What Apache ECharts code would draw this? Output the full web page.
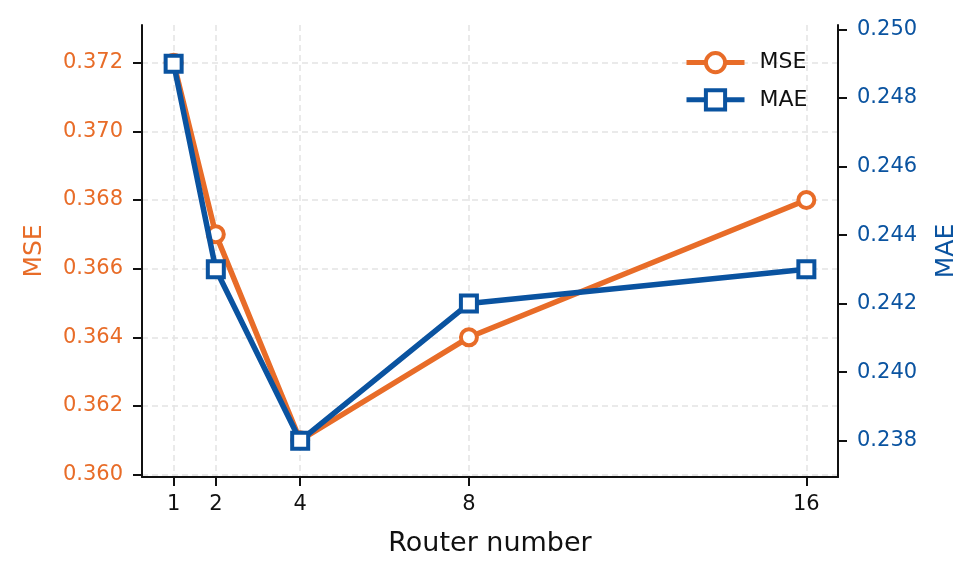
<!DOCTYPE html>
<html>
<head>
<meta charset="utf-8">
<script src="https://cdn.jsdelivr.net/npm/echarts@6/dist/echarts.min.js"></script>
<style>
  html, body { margin: 0; padding: 0; background: #fff; }
  #chart { width: 980px; height: 580px; }
</style>
</head>
<body>
<div id="chart"></div>
<script>
// data
const routers = [1, 2, 4, 8, 16]
const mse = [0.372, 0.367, 0.361, 0.364, 0.368]
const mae = [0.249, 0.243, 0.238, 0.242, 0.243]
const mseTicks = [0.360, 0.362, 0.364, 0.366, 0.368, 0.370, 0.372]
const maeTicks = [0.238, 0.240, 0.242, 0.244, 0.246, 0.248, 0.250]

const orange = '#E86C28'
const blue = '#0A53A0'
const font = 'DejaVu Sans'

const chart = echarts.init(document.getElementById('chart'), null, { renderer: 'canvas' })

const gridLine = { color: '#e3e3e3', width: 1.5, type: [6, 4] }

chart.setOption({
  backgroundColor: '#fff',
  animation: false,
  textStyle: { fontFamily: font },
  grid: {
    left: 142,
    right: 142,
    top: 25,
    bottom: 103,
    containLabel: false,
    outerBoundsMode: 'none'
  },
  legend: {
    orient: 'vertical',
    left: 679,
    top: 46,
    itemWidth: 58,
    itemHeight: 24,
    itemGap: 14,
    lineStyle: { width: 5 },
    itemStyle: { borderWidth: 4 },
    textStyle: { fontSize: 22, color: '#111', padding: [0, 0, 0, 10] },
    data: ['MSE', 'MAE']
  },
  xAxis: {
    type: 'value',
    min: 0.25,
    max: 16.75,
    name: 'Router number',
    nameLocation: 'middle',
    nameGap: 53,
    nameTextStyle: { fontSize: 27, color: '#111' },
    axisLine: { lineStyle: { color: '#111', width: 2 } },
    axisTick: { customValues: routers, length: 9, lineStyle: { width: 2, color: '#111' } },
    axisLabel: { customValues: routers, fontSize: 21, color: '#111', margin: 17 },
    splitLine: { show: true, lineStyle: gridLine }
  },
  yAxis: [
    {
      type: 'value',
      position: 'left',
      min: 0.35993,
      max: 0.3731,
      name: 'MSE',
      nameLocation: 'middle',
      nameGap: 95,
      nameTextStyle: { fontSize: 25, color: orange },
      axisLine: { show: true, lineStyle: { color: '#111', width: 2 } },
      axisTick: { show: true, customValues: mseTicks, length: 9, lineStyle: { width: 2, color: '#111' } },
      axisLabel: {
        customValues: mseTicks, fontSize: 21, color: orange, margin: 19,
        formatter: v => v.toFixed(3)
      },
      splitLine: { show: true, lineStyle: gridLine }
    },
    {
      type: 'value',
      position: 'right',
      min: 0.23694,
      max: 0.25013,
      name: 'MAE',
      nameLocation: 'middle',
      nameGap: 96,
      nameTextStyle: { fontSize: 25, color: blue },
      axisLine: { show: true, lineStyle: { color: '#111', width: 2 } },
      axisTick: { show: true, customValues: maeTicks, length: 9, lineStyle: { width: 2, color: '#111' } },
      axisLabel: {
        customValues: maeTicks, fontSize: 21, color: blue, margin: 19,
        formatter: v => v.toFixed(3)
      },
      splitLine: { show: false }
    }
  ],
  series: [
    {
      name: 'MSE',
      type: 'line',
      yAxisIndex: 0,
      data: routers.map((r, i) => [r, mse[i]]),
      symbol: 'circle',
      symbolSize: 16,
      lineStyle: { color: orange, width: 5.5 },
      itemStyle: { color: '#fff', borderColor: orange, borderWidth: 4 },
      z: 3
    },
    {
      name: 'MAE',
      type: 'line',
      yAxisIndex: 1,
      data: routers.map((r, i) => [r, mae[i]]),
      symbol: 'rect',
      symbolSize: 16,
      lineStyle: { color: blue, width: 5.5 },
      itemStyle: { color: '#fff', borderColor: blue, borderWidth: 4 },
      z: 4
    }
  ]
})
</script>
</body>
</html>
